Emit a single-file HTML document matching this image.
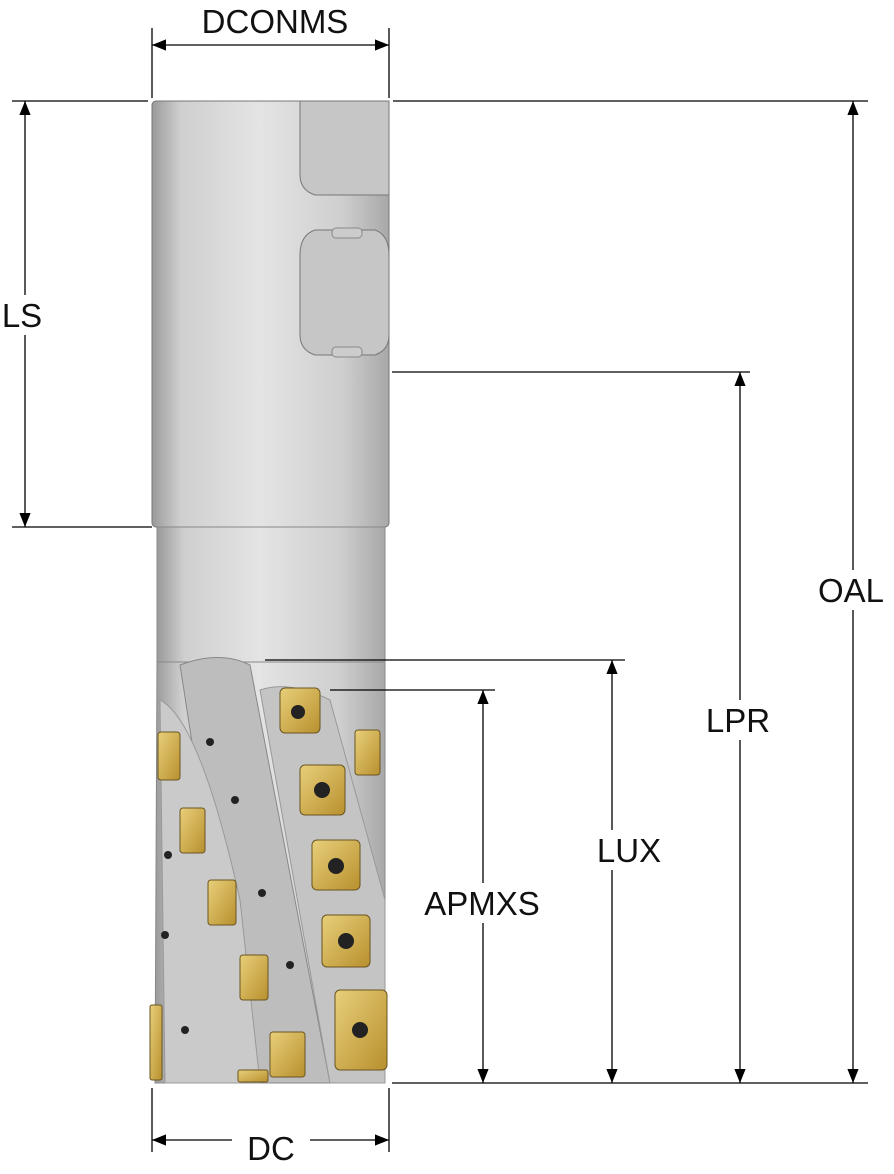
<!DOCTYPE html>
<html><head><meta charset="utf-8"><style>
html,body{margin:0;padding:0;background:#fff;}
svg{display:block;}
text{font-family:"Liberation Sans",sans-serif;font-size:33px;fill:#111;}
</style></head><body>
<svg width="894" height="1174" viewBox="0 0 894 1174" xmlns="http://www.w3.org/2000/svg">
<defs>
<linearGradient id="g" x1="0" x2="1" y1="0" y2="0">
<stop offset="0" stop-color="#9a9a9a"/><stop offset="0.12" stop-color="#cfcfcf"/>
<stop offset="0.45" stop-color="#e4e4e4"/><stop offset="0.8" stop-color="#cfcfcf"/>
<stop offset="1" stop-color="#a8a8a8"/></linearGradient>
<linearGradient id="au" x1="0" x2="1" y1="0" y2="1">
<stop offset="0" stop-color="#e8cf7a"/><stop offset="1" stop-color="#b8902e"/></linearGradient>
<marker id="a" viewBox="0 0 10 10" refX="10" refY="5" markerWidth="16" markerHeight="14" orient="auto-start-reverse" markerUnits="userSpaceOnUse"><path d="M0,1 L10,5 L0,9 z" fill="#000"/></marker>
</defs>
<rect x="152" y="101" width="237" height="426" rx="4" fill="url(#g)" stroke="#777" stroke-width="1"/>
<path d="M300,101 H389 V195 H315 Q300,190 300,175 Z" fill="#c6c6c6" stroke="#777"/>
<path d="M315,230 H375 Q389,235 389,255 V335 Q389,350 375,355 H315 Q300,350 300,335 V255 Q300,235 315,230Z" fill="#c6c6c6" stroke="#777"/>
<rect x="332" y="228" width="30" height="10" rx="4" fill="#ccc" stroke="#888"/>
<rect x="332" y="347" width="30" height="10" rx="4" fill="#ccc" stroke="#888"/>
<rect x="157" y="527" width="228" height="135" fill="url(#g)" stroke="#888"/>
<path d="M157,662 H385 V1083 H155 Z" fill="url(#g)" stroke="#888"/>
<path d="M180,665 Q220,650 250,665 L330,1083 H245 Z" fill="#bdbdbd" stroke="#888"/>
<path d="M160,700 Q200,720 240,900 L260,1083 H165 Z" fill="#cacaca" stroke="#999"/>
<path d="M260,690 Q290,680 330,700 L385,900 V1083 H330 Z" fill="#c4c4c4" stroke="#999"/>
<g fill="url(#au)" stroke="#6a5520">
<rect x="280" y="688" width="40" height="45" rx="5"/>
<rect x="300" y="765" width="45" height="50" rx="5"/>
<rect x="312" y="840" width="48" height="50" rx="5"/>
<rect x="322" y="915" width="48" height="52" rx="5"/>
<rect x="335" y="990" width="52" height="80" rx="5"/>
<rect x="355" y="730" width="25" height="45" rx="3"/>
<rect x="158" y="732" width="22" height="48" rx="3"/>
<rect x="180" y="808" width="25" height="45" rx="3"/>
<rect x="208" y="880" width="28" height="45" rx="3"/>
<rect x="240" y="955" width="28" height="45" rx="3"/>
<rect x="270" y="1032" width="35" height="45" rx="3"/>
<rect x="150" y="1005" width="12" height="75" rx="2"/>
<rect x="238" y="1070" width="30" height="12" rx="2"/>
</g>
<g fill="#222"><circle cx="298" cy="712" r="7"/><circle cx="322" cy="790" r="8"/><circle cx="336" cy="866" r="8"/><circle cx="346" cy="941" r="8"/><circle cx="360" cy="1030" r="8"/>
<circle cx="210" cy="742" r="4"/><circle cx="235" cy="800" r="4"/><circle cx="168" cy="855" r="4"/><circle cx="262" cy="893" r="4"/><circle cx="165" cy="935" r="4"/><circle cx="290" cy="965" r="4"/><circle cx="185" cy="1030" r="4"/></g>
<g stroke="#000" stroke-width="1.3" fill="none">
<line x1="152" y1="28" x2="152" y2="98"/><line x1="389" y1="28" x2="389" y2="98"/>
<line x1="152" y1="45" x2="389" y2="45" marker-start="url(#a)" marker-end="url(#a)"/>
<line x1="12" y1="101" x2="148" y2="101"/><line x1="393" y1="101" x2="868" y2="101"/>
<line x1="12" y1="527" x2="152" y2="527"/>
<line x1="25" y1="101" x2="25" y2="527" marker-start="url(#a)" marker-end="url(#a)"/>
<line x1="392" y1="372" x2="750" y2="372"/>
<line x1="740" y1="372" x2="740" y2="1083" marker-start="url(#a)" marker-end="url(#a)"/>
<line x1="853" y1="101" x2="853" y2="1083" marker-start="url(#a)" marker-end="url(#a)"/>
<line x1="265" y1="660" x2="625" y2="660"/>
<line x1="612" y1="660" x2="612" y2="1083" marker-start="url(#a)" marker-end="url(#a)"/>
<line x1="330" y1="690" x2="495" y2="690"/>
<line x1="483" y1="690" x2="483" y2="1083" marker-start="url(#a)" marker-end="url(#a)"/>
<line x1="392" y1="1083" x2="868" y2="1083"/>
<line x1="152" y1="1088" x2="152" y2="1152"/><line x1="389" y1="1088" x2="389" y2="1152"/>
<line x1="152" y1="1140" x2="232" y2="1140" marker-start="url(#a)"/>
<line x1="310" y1="1140" x2="389" y2="1140" marker-end="url(#a)"/>
</g>
<g fill="#fff"><rect x="0" y="295" width="48" height="40"/><rect x="698" y="700" width="80" height="40"/><rect x="808" y="570" width="86" height="40"/><rect x="576" y="830" width="106" height="40"/><rect x="412" y="883" width="140" height="40"/></g>
<text x="275" y="33" text-anchor="middle">DCONMS</text>
<text x="22" y="327" text-anchor="middle">LS</text>
<text x="738" y="732" text-anchor="middle">LPR</text>
<text x="851" y="602" text-anchor="middle">OAL</text>
<text x="629" y="862" text-anchor="middle">LUX</text>
<text x="482" y="915" text-anchor="middle">APMXS</text>
<text x="271" y="1160" text-anchor="middle">DC</text>
</svg>
</body></html>
